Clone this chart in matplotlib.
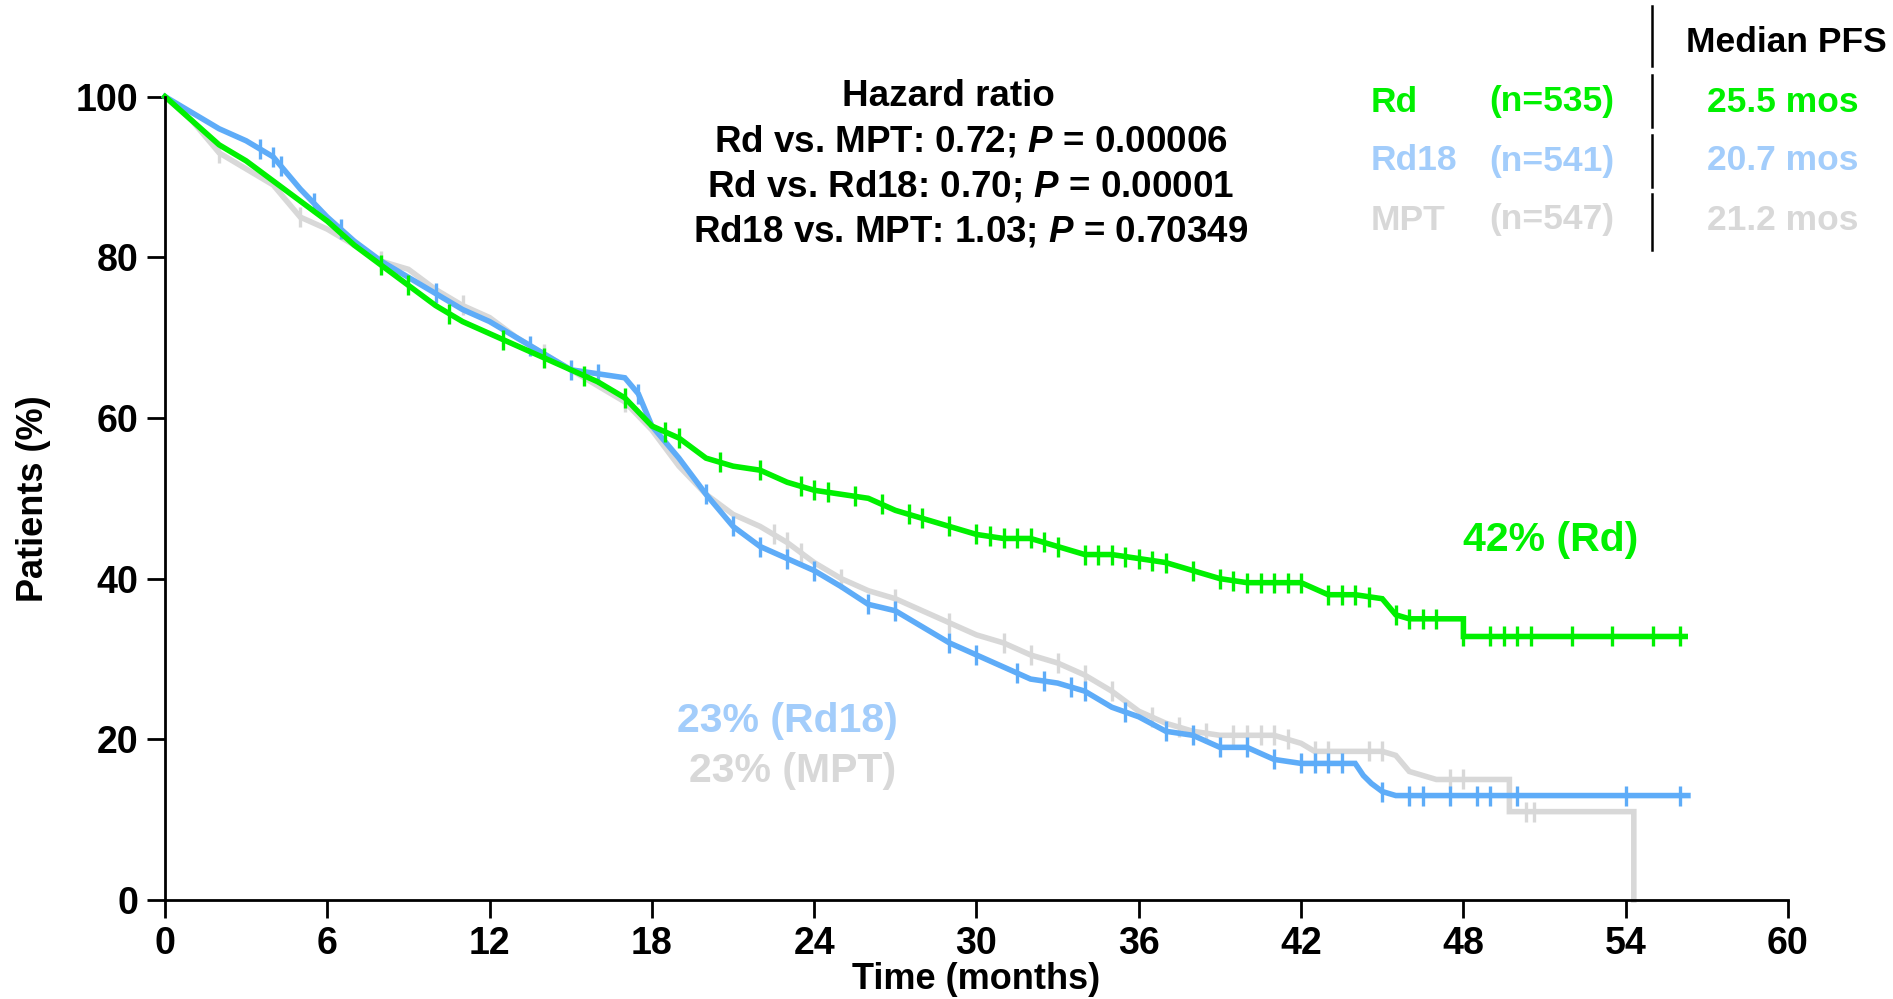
import numpy as np
import matplotlib
matplotlib.use("Agg")
import matplotlib.pyplot as plt

plt.rcParams['font.family'] = ['Liberation Sans', 'DejaVu Sans']
plt.rcParams['font.weight'] = 'bold'
plt.rcParams['axes.labelweight'] = 'bold'
plt.rcParams['mathtext.fontset'] = 'custom'
plt.rcParams['mathtext.it'] = 'Liberation Sans:italic:bold'
plt.rcParams['mathtext.rm'] = 'Liberation Sans:bold'

# Kaplan-Meier curves (months, % patients)
rd_t = [0, 1, 2, 3, 4, 5, 6, 7, 8, 9, 10, 11, 12, 13, 14, 15, 16, 17, 18, 19, 20, 21, 22, 23, 24, 25,
        26, 27, 28, 29, 30, 31, 32, 33, 34, 35, 36, 37, 38, 39, 40, 41, 42, 43, 44, 45, 45.5, 46, 48, 48, 56.2]
rd_v = [100, 97, 94, 92, 89.5, 87, 84.5, 81.5, 79, 76.5, 74, 72, 70.5, 69, 67.5, 66, 64.5, 62.5, 59, 57.5, 55, 54,
        53.5, 52, 51, 50.5, 50, 48.5, 47.5, 46.5, 45.5, 45, 45, 44, 43, 43, 42.5, 42, 41, 40, 39.5, 39.5, 39.5, 38,
        38, 37.5, 35.5, 35, 35, 32.8, 32.8]
rd18_t = [0, 1, 2, 3, 4, 5, 6, 7, 8, 9, 10, 11, 12, 13, 14, 15, 16, 17, 17.5, 18, 19, 20, 21, 22, 23, 24, 25, 26,
          27, 28, 29, 30, 31, 32, 33, 34, 35, 36, 37, 38, 39, 40, 41, 42, 43, 44, 44.3, 44.6, 45, 45.5, 56.3]
rd18_v = [100, 98, 96, 94.5, 92.5, 88.5, 85, 82, 79.5, 77.5, 75.5, 73.5, 72, 70, 68, 66, 65.5, 65, 63, 59, 55, 50.5,
          46.5, 44, 42.5, 41, 39, 36.8, 36, 34, 32, 30.5, 29, 27.5, 27, 26, 24, 22.8, 21, 20.5, 19, 19, 17.5, 17, 17,
          17, 15.5, 14.5, 13.5, 13, 13]
mpt_t = [0, 1, 2, 3, 4, 5, 6, 7, 8, 9, 10, 11, 12, 13, 14, 15, 16, 17, 18, 19, 20, 21, 22, 23, 24, 25, 26, 27, 28,
         29, 30, 31, 32, 33, 34, 35, 36, 37, 38, 39, 41, 42, 42.5, 45, 45.5, 46, 47, 49.7, 49.7, 54.3, 54.3]
mpt_v = [100, 97, 93, 91, 89, 85, 83.5, 81.5, 79.5, 78.5, 76, 74, 72.5, 70, 68, 66, 64, 62, 58.5, 54, 50.5, 48, 46.5,
         44.5, 42, 40, 38.5, 37.5, 36, 34.5, 33, 32, 30.5, 29.5, 28, 26, 23.5, 22, 21, 20.5, 20.5, 19.5, 18.5, 18.5,
         18, 16, 15, 15, 11, 11, 0]

# censored times
rd_cens = [8, 9, 10.5, 12.5, 14, 15.5, 17, 18.5, 19, 20.5, 22, 23.5, 24, 24.5, 25.5, 26.5, 27.5, 28, 29, 30, 30.5,
           31, 31.5, 32, 32.5, 33, 34, 34.5, 35, 35.5, 36, 36.5, 37, 38, 39, 39.5, 40, 40.5, 41, 41.5, 42, 43, 43.5,
           44, 44.5, 45.5, 46, 46.5, 47, 48, 49, 49.5, 50, 50.5, 52, 53.5, 55, 56]
rd18_cens = [3.5, 4, 4.3, 5.5, 6.5, 10, 13.5, 15, 16, 17.5, 20, 21, 22, 23, 24, 26, 27, 29, 30, 31.5, 32.5, 33.5, 34,
             35.5, 37, 38, 39, 40, 41, 42, 42.5, 43, 43.5, 45, 46, 46.5, 47.5, 48.5, 49, 50, 54, 56]
mpt_cens = [2, 5, 8, 11, 14, 17, 22.5, 23, 23.5, 25, 27, 29, 31, 32, 33, 34, 35, 36.5, 37.5, 38.5, 39.5, 40, 40.5,
            41, 41.5, 42.5, 43, 44.5, 45, 47.5, 48, 50.3, 50.6]

green = '#00f000'
blue = '#5eacf8'
blue_txt = '#a3cdfb'
grey = '#d8d8d8'

fig = plt.figure(figsize=(18.93, 9.99), dpi=100)
ax = fig.add_axes([165 / 1893, 1 - 900 / 999, (1788 - 165) / 1893, (900 - 96.6) / 999])

series = [(mpt_t, mpt_v, mpt_cens, grey), (rd18_t, rd18_v, rd18_cens, blue), (rd_t, rd_v, rd_cens, green)]
for t, v, cens, col in series:
    ax.plot(t, v, color=col, lw=4, clip_on=False, solid_joinstyle='miter')
    cy = np.interp(cens, t, v)
    ax.plot(cens, cy, ls='none', marker='|', ms=14, mew=2.4, color=col, clip_on=False)

ax.set_xlim(0, 60)
ax.set_ylim(0, 100)
ax.set_xticks(range(0, 61, 6))
ax.set_yticks(range(0, 101, 20))
ax.spines['top'].set_visible(False)
ax.spines['right'].set_visible(False)
for s in ('left', 'bottom'):
    ax.spines[s].set_linewidth(2)
ax.tick_params(length=13, width=2, labelsize=27, pad=6)
ax.set_xlabel('Time (months)', fontsize=26, labelpad=0)
ax.set_ylabel('Patients (%)', fontsize=26, labelpad=18)


def fx(px):
    return px / 1893


def fy(py):
    return 1 - py / 999


# hazard ratio block
hr_lines = ['Hazard ratio',
            r'Rd vs. MPT: 0.72; $\mathit{P}$ = 0.00006',
            r'Rd vs. Rd18: 0.70; $\mathit{P}$ = 0.00001',
            r'Rd18 vs. MPT: 1.03; $\mathit{P}$ = 0.70349']
for i, line in enumerate(hr_lines):
    cx = 948 if i == 0 else 971
    fig.text(fx(cx), fy(96 + i * 45.3), line, ha='center', va='center', fontsize=26.5)

# legend table
arms = ['Rd', 'Rd18', 'MPT']
ns = ['(n=535)', '(n=541)', '(n=547)']
medians = ['25.5 mos', '20.7 mos', '21.2 mos']
txt_cols = [green, blue_txt, grey]
fig.text(fx(1786), fy(42), 'Median PFS', ha='center', va='center', fontsize=25.5)
for i in range(3):
    yy = fy(102 + i * 59)
    fig.text(fx(1371), yy, arms[i], ha='left', va='center', fontsize=25.5, color=txt_cols[i])
    fig.text(fx(1614), yy, ns[i], ha='right', va='center', fontsize=25.5, color=txt_cols[i])
    fig.text(fx(1783), yy, medians[i], ha='center', va='center', fontsize=25.5, color=txt_cols[i])
for y0, y1 in [(6, 66), (75, 127), (135, 187), (194, 250)]:
    fig.add_artist(plt.Line2D([fx(1652), fx(1652)], [fy(y0), fy(y1)], color='black', lw=1.8))

# landmark labels
fig.text(fx(1551), fy(540), '42% (Rd)', ha='center', va='center', fontsize=29.5, color=green)
fig.text(fx(787), fy(721), '23% (Rd18)', ha='center', va='center', fontsize=29.5, color=blue_txt)
fig.text(fx(793), fy(771), '23% (MPT)', ha='center', va='center', fontsize=29.5, color=grey)

fig.savefig('out.png', dpi=100)
